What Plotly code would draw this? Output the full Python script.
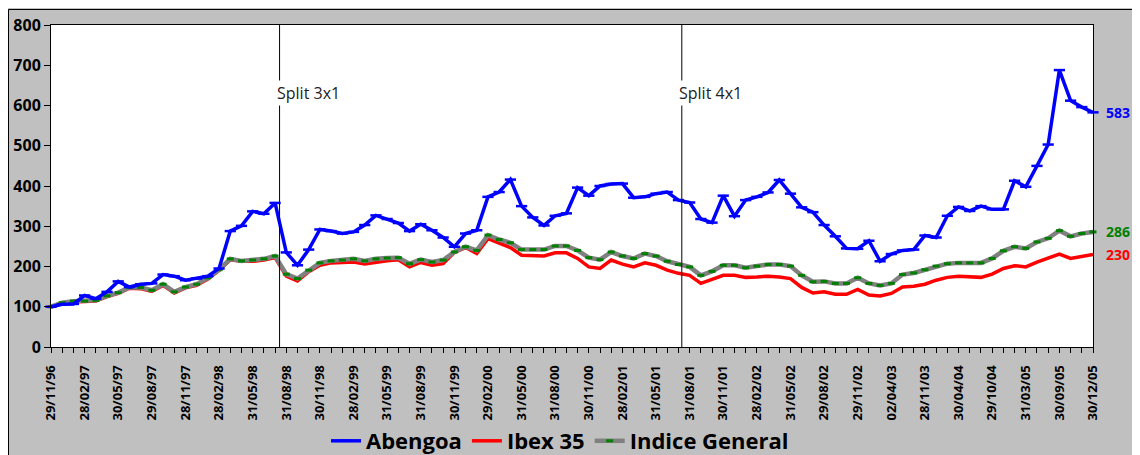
import plotly.graph_objects as go

dates = [
    "29/11/96", "31/12/96", "31/01/97", "28/02/97", "31/03/97", "30/04/97", "30/05/97", "30/06/97",
    "31/07/97", "29/08/97", "30/09/97", "31/10/97", "28/11/97", "31/12/97", "30/01/98", "28/02/98",
    "31/03/98", "30/04/98", "31/05/98", "30/06/98", "31/07/98", "31/08/98", "30/09/98", "30/10/98",
    "30/11/98", "31/12/98", "29/01/99", "28/02/99", "31/03/99", "30/04/99", "31/05/99", "30/06/99",
    "30/07/99", "31/08/99", "30/09/99", "29/10/99", "30/11/99", "31/12/99", "31/01/00", "29/02/00",
    "31/03/00", "28/04/00", "31/05/00", "30/06/00", "31/07/00", "31/08/00", "29/09/00", "31/10/00",
    "30/11/00", "29/12/00", "31/01/01", "28/02/01", "30/03/01", "30/04/01", "31/05/01", "29/06/01",
    "31/07/01", "31/08/01", "28/09/01", "31/10/01", "30/11/01", "31/12/01", "31/01/02", "28/02/02",
    "28/03/02", "30/04/02", "31/05/02", "28/06/02", "31/07/02", "29/08/02", "30/09/02", "31/10/02",
    "29/11/02", "31/12/02", "14/02/03", "02/04/03", "30/06/03", "29/09/03", "28/11/03", "30/01/04",
    "31/03/04", "30/04/04", "30/06/04", "31/08/04", "29/10/04", "30/11/04", "31/01/05", "31/03/05",
    "31/05/05", "29/07/05", "30/09/05", "31/10/05", "30/11/05", "30/12/05",
]

abengoa = [
    100, 106, 107, 128, 120, 137, 163, 149, 156, 158, 180, 176, 166, 170, 176, 195,
    288, 301, 337, 331, 358, 235, 203, 242, 292, 288, 282, 286, 303, 327, 318, 308,
    288, 305, 290, 272, 249, 282, 290, 373, 385, 416, 350, 322, 302, 326, 332, 396,
    376, 400, 405, 406, 371, 373, 381, 385, 365, 359, 318, 309, 376, 325, 365, 373,
    384, 415, 381, 347, 335, 303, 275, 245, 244, 264, 213, 231, 240, 242, 277, 272,
    326, 348, 338, 350, 342, 342, 413, 398, 450, 503, 688, 612, 596, 583,
]

ibex = [
    100, 108, 112, 113, 114, 125, 133, 146, 145, 138, 153, 134, 147, 153, 169, 190,
    217, 213, 213, 216, 222, 176, 164, 187, 203, 209, 209, 211, 206, 211, 214, 217,
    199, 210, 203, 207, 235, 247, 232, 269, 257, 247, 228, 226, 226, 234, 234, 220,
    199, 195, 216, 206, 199, 209, 203, 191, 183, 178, 158, 168, 178, 178, 173, 174,
    176, 174, 170, 148, 134, 137, 131, 131, 143, 129, 127, 133, 149, 151, 156, 166,
    173, 176, 175, 173, 181, 195, 202, 199, 211, 220, 231, 220, 226, 230,
]

indice_general = [
    100, 110, 114, 114, 116, 127, 135, 148, 148, 141, 156, 137, 149, 156, 172, 192,
    219, 214, 216, 219, 226, 181, 170, 191, 209, 214, 216, 219, 214, 219, 221, 222,
    207, 217, 211, 216, 236, 249, 240, 278, 267, 259, 242, 242, 242, 251, 251, 240,
    222, 217, 236, 226, 220, 232, 226, 213, 205, 199, 178, 188, 203, 203, 197, 201,
    205, 205, 201, 178, 162, 163, 158, 158, 172, 158, 153, 158, 180, 184, 192, 201,
    207, 209, 209, 209, 220, 239, 249, 245, 261, 270, 289, 275, 282, 286,
]

y_ticks = [0, 100, 200, 300, 400, 500, 600, 700, 800]
split_labels = ["Split 3x1", "Split 4x1"]
split_pos = [20.4, 56.3]
label_every = 3

tick_text = [d if i % label_every == 0 else "" for i, d in enumerate(dates)]

FONT = "Open Sans"
W, H = 1132, 447
ML, MR, MT, MB = 43, 47, 17, 108
PW, PH = W - ML - MR, H - MT - MB

fig = go.Figure()

fig.add_trace(go.Scatter(
    x=dates, y=ibex, name="Ibex 35", mode="lines",
    line=dict(color="#FF0000", width=3.5), legendrank=2, cliponaxis=False,
))
fig.add_trace(go.Scatter(
    x=dates, y=indice_general, name="Indice General", mode="lines+markers",
    line=dict(color="#808080", width=4.5),
    marker=dict(symbol="line-ew", size=5, color="#008000",
                line=dict(color="#008000", width=3)),
    legendrank=3, cliponaxis=False,
))
fig.add_trace(go.Scatter(
    x=dates, y=abengoa, name="Abengoa", mode="lines+markers",
    line=dict(color="#0000FF", width=3.5),
    marker=dict(symbol="line-ew", size=8, color="#0000FF",
                line=dict(color="#0000FF", width=2.5)),
    legendrank=1, cliponaxis=False,
))

bx = (0.5 - ML) / PW
by = (PH + MT - 1.5) / PH
shapes = [
    dict(type="line", xref="paper", yref="paper", x0=bx, x1=1.2, y0=by, y1=by,
         line=dict(color="black", width=1), layer="below"),
    dict(type="line", xref="paper", yref="paper", x0=bx, x1=bx, y0=-0.5, y1=by,
         line=dict(color="black", width=1), layer="below"),
]
for p in split_pos:
    shapes.append(dict(type="line", xref="x", yref="paper", x0=p, x1=p, y0=0, y1=1,
                       line=dict(color="black", width=1)))

annotations = []
for p, t in zip(split_pos, split_labels):
    annotations.append(dict(x=p, y=631, xref="x", yref="y", text=t, showarrow=False,
                            xanchor="left", yanchor="middle", xshift=-5,
                            bgcolor="white", borderpad=1,
                            font=dict(family=FONT, size=16, color="#222222")))
for series, col in [(abengoa, "#0000FF"), (indice_general, "#008000"), (ibex, "#FF0000")]:
    annotations.append(dict(x=dates[-1], y=series[-1], xref="x", yref="y",
                            text=str(series[-1]), showarrow=False, xanchor="left",
                            yanchor="middle", xshift=11,
                            font=dict(family=FONT, size=14, color=col, weight="bold")))

fig.update_layout(
    width=W, height=H,
    margin=dict(l=ML, r=MR, t=MT, b=MB, pad=0, autoexpand=False),
    paper_bgcolor="#C0C0C0", plot_bgcolor="white",
    font=dict(family=FONT, color="black"),
    shapes=shapes, annotations=annotations,
    showlegend=True,
    legend=dict(orientation="h", x=(552 - ML) / PW, xanchor="center",
                y=(PH + MT - 433) / PH, yanchor="middle",
                bgcolor="rgba(0,0,0,0)", font=dict(family=FONT, size=22, weight="bold"),
                traceorder="normal", itemwidth=30),
)
fig.update_xaxes(
    type="category", range=[0, len(dates) - 1],
    tickmode="array", tickvals=dates, ticktext=tick_text,
    tickangle=-90, ticks="outside", ticklen=5, tickcolor="black",
    ticklabelstandoff=7,
    tickfont=dict(family=FONT, size=13, weight="bold", color="black"),
    showline=True, linecolor="black", linewidth=1, mirror=True,
    showgrid=False, zeroline=False,
)
fig.update_yaxes(
    range=[0, 800], tickmode="array", tickvals=y_ticks,
    ticks="outside", ticklen=6, tickcolor="black",
    tickfont=dict(family=FONT, size=16, weight="bold", color="black"),
    showline=True, linecolor="black", linewidth=1, mirror=True,
    showgrid=False, zeroline=False,
)

fig.write_html("out.html")
